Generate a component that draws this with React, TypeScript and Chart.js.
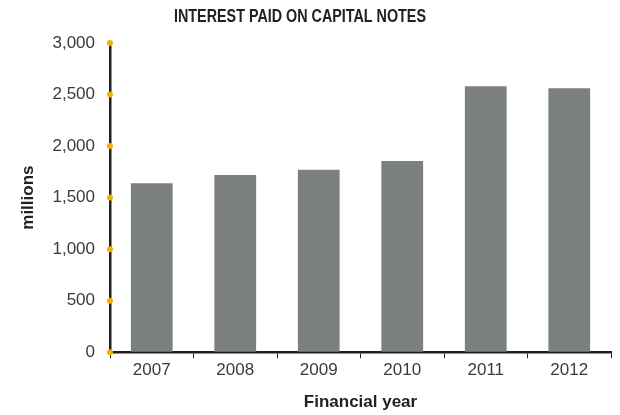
import React, { useEffect, useRef } from "react";
import { Chart, registerables } from "chart.js";

Chart.register(...registerables);

const title = "INTEREST PAID ON CAPITAL NOTES";
const years = ["2007", "2008", "2009", "2010", "2011", "2012"];
const interest = [1640, 1720, 1770, 1855, 2580, 2560];
const yTicks = [0, 500, 1000, 1500, 2000, 2500, 3000];
const xTitle = "Financial year";
const yTitle = "millions";

const AXIS = "#231f20";
const BAR = "#7b7f7e";
const DOT = "#f2b100";
const TEXT = "#3a3a3a";
const FONT = "'Liberation Sans', Arial, sans-serif";

const dotPlugin = {
  id: "tickDots",
  afterDraw(chart: any) {
    const y = chart.scales.y;
    const ctx = chart.ctx;
    const x = chart.chartArea.left;
    ctx.save();
    ctx.fillStyle = DOT;
    y.ticks.forEach((t: any) => {
      const py = y.getPixelForValue(t.value);
      ctx.beginPath();
      ctx.arc(x, py, 3, 0, Math.PI * 2);
      ctx.fill();
    });
    ctx.restore();
  },
};

// condensed bold title (no narrow face installed, so compress horizontally)
const titlePlugin = {
  id: "condensedTitle",
  afterDraw(chart: any) {
    const ctx = chart.ctx;
    ctx.save();
    ctx.font = `bold 19px ${FONT}`;
    ctx.fillStyle = "#222";
    ctx.textAlign = "center";
    ctx.textBaseline = "middle";
    const w = ctx.measureText(title).width;
    const sx = 252 / w;
    ctx.translate(300, 17);
    ctx.scale(sx, 1);
    ctx.fillText(title, 0, 0);
    ctx.restore();
  },
};

export default function App() {
  const ref = useRef<HTMLCanvasElement | null>(null);
  useEffect(() => {
    document.body.style.margin = "0";
    const chart = new Chart(ref.current!, {
      type: "bar",
      data: {
        labels: years,
        datasets: [
          {
            data: interest,
            backgroundColor: BAR,
            barPercentage: 0.5,
            categoryPercentage: 1,
          },
        ],
      },
      options: {
        animation: false,
        responsive: false,
        layout: { padding: { left: 0, right: 9, top: 43, bottom: 0 } },
        plugins: {
          legend: { display: false },
          tooltip: { enabled: false },
          title: { display: false },
        },
        scales: {
          x: {
            grid: {
              offset: true,
              drawOnChartArea: false,
              drawTicks: true,
              tickLength: 6,
              color: AXIS,
              lineWidth: 1,
            },
            border: { display: true, color: AXIS, width: 2.5 },
            ticks: {
              color: TEXT,
              padding: 2,
              font: { family: FONT, size: 17 },
            },
            title: {
              display: true,
              text: xTitle,
              color: "#222",
              font: { family: FONT, size: 17, weight: "bold" },
              padding: { top: 10, bottom: 2 },
            },
          },
          y: {
            min: 0,
            max: 3000,
            afterFit(scale: any) {
              scale.width = 110;
            },
            afterBuildTicks(scale: any) {
              scale.ticks = yTicks.map((v) => ({ value: v }));
            },
            grid: { drawOnChartArea: false, drawTicks: false },
            border: { display: true, color: AXIS, width: 2.5 },
            ticks: {
              color: TEXT,
              padding: 15,
              font: { family: FONT, size: 17 },
              callback: (v: any) => Number(v).toLocaleString("en-US"),
            },
            title: {
              display: true,
              text: yTitle,
              color: "#222",
              font: { family: FONT, size: 17, weight: "bold" },
              padding: { top: 18, bottom: 0 },
            },
          },
        },
      },
      plugins: [dotPlugin, titlePlugin],
    });
    return () => chart.destroy();
  }, []);
  return (
    <div style={{ width: 620, height: 415 }}>
      <canvas ref={ref} width={620} height={415} />
    </div>
  );
}
